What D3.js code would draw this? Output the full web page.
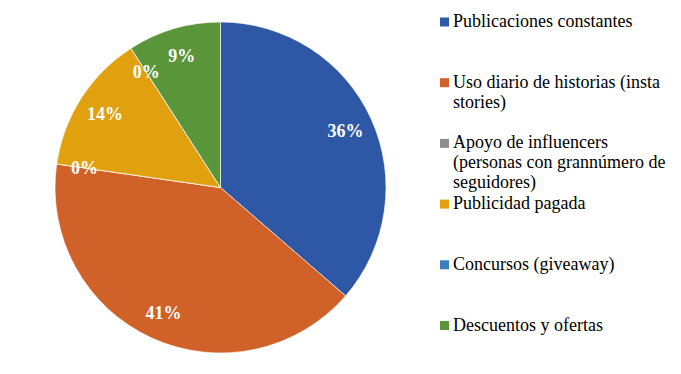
<!DOCTYPE html>
<html><head><meta charset="utf-8">
<script src="https://cdn.jsdelivr.net/npm/d3@7"></script>
<style>html,body{margin:0;padding:0;background:#fff;}
svg text{font-family:"Liberation Serif","Times New Roman",Times,serif;}</style>
</head><body>
<svg id="chart" width="681" height="374"></svg>
<script>
const categories = ["Publicaciones constantes","Uso diario de historias (insta stories)","Apoyo de influencers (personas con grannúmero de seguidores)","Publicidad pagada","Concursos (giveaway)","Descuentos y ofertas"];
const legendLines = [["Publicaciones constantes"],["Uso diario de historias (insta","stories)"],["Apoyo de influencers","(personas con grannúmero de","seguidores)"],["Publicidad pagada"],["Concursos (giveaway)"],["Descuentos y ofertas"]];
const values = [8, 9, 0, 3, 0, 2];
const colors = ["#2E58A5","#D06128","#8E8E8E","#E1A10E","#3E7DBB","#5A953A"];

const svg = d3.select("#chart");
const cx = 220.5, cy = 187.5, R = 165.5;
const total = d3.sum(values);
const pie = d3.pie().sort(null).value(d => d)(values);
const arc = d3.arc().innerRadius(0).outerRadius(R);
const labelArc = d3.arc().innerRadius(R*0.83).outerRadius(R*0.83);

const g = svg.append("g").attr("transform", `translate(${cx},${cy})`);
g.selectAll("path").data(pie).join("path")
  .attr("d", arc).attr("fill", (d,i) => colors[i])
  .attr("stroke", "#fff").attr("stroke-width", 0.6);
g.selectAll("text").data(pie).join("text")
  .attr("transform", d => `translate(${labelArc.centroid(d)})`)
  .attr("text-anchor", "middle").attr("dy", "0.35em")
  .attr("font-weight", "bold").attr("font-size", 18).attr("fill", "#fff")
  .text(d => d3.format(".0%")(d.value/total));

const legY = d3.scaleLinear().domain([0, categories.length-1]).range([27, 330.5]);
const lg = svg.append("g");
const items = lg.selectAll("g").data(categories).join("g")
  .attr("transform", (d,i) => `translate(440,${legY(i)})`);
items.append("rect").attr("x", 0).attr("y", -9.5).attr("width", 9).attr("height", 9)
  .attr("fill", (d,i) => colors[i]);
items.append("text")
  .attr("font-size", 18).attr("fill", "#000")
  .selectAll("tspan").data((d,i) => legendLines[i]).join("tspan")
  .attr("x", 13).attr("y", (d,j) => j*20).text(d => d);
</script>
</body></html>
